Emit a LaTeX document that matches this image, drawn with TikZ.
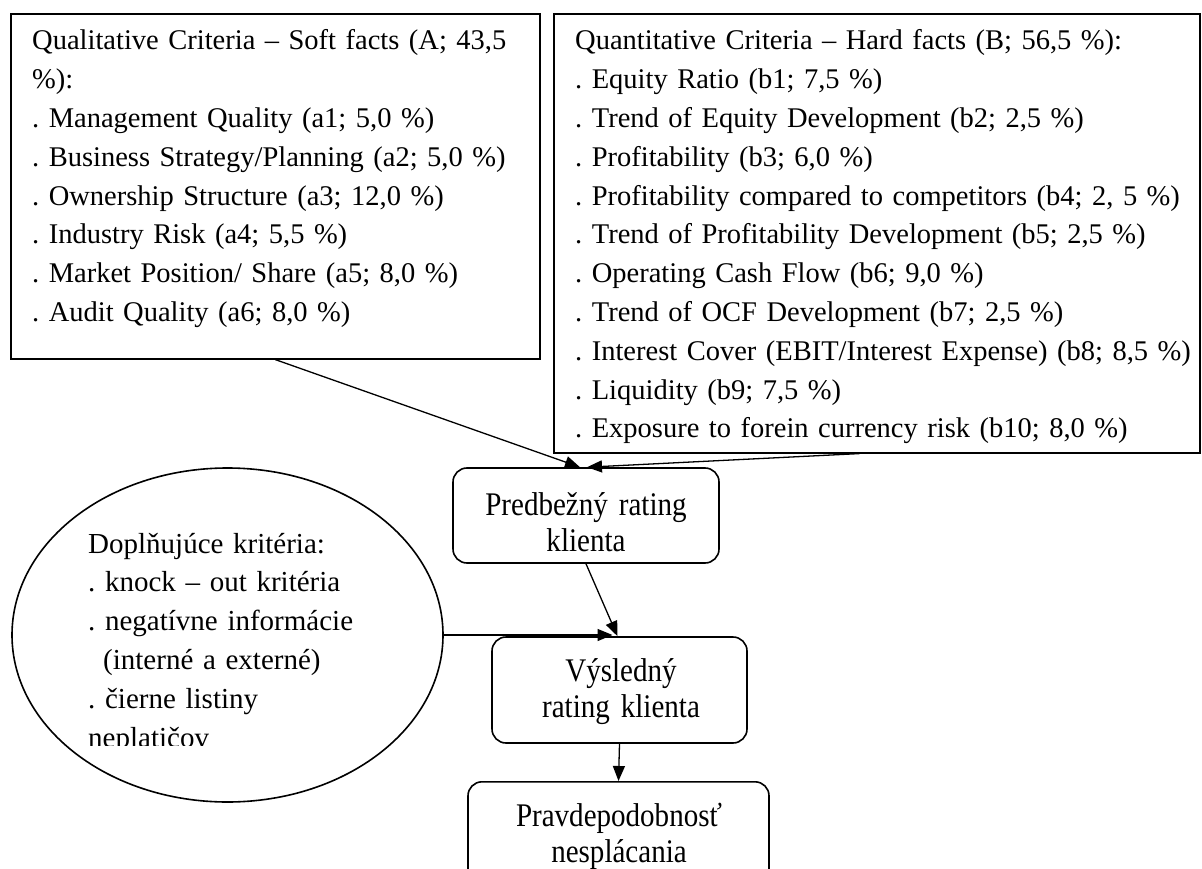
\documentclass[tikz,border=0pt]{standalone}
\usepackage{fontspec}
\setmainfont{Liberation Serif}
\newfontfamily\tallfont[FakeStretch=0.88]{Liberation Serif}
\usetikzlibrary{arrows.meta,calc,shapes.geometric}

\begin{document}
\begin{tikzpicture}[x=1pt,y=-1pt,
  box/.style={draw,line width=1.6pt,inner sep=0pt,anchor=north west},
  rbox/.style={draw,line width=1.6pt,rounded corners=14pt,inner sep=0pt},
  txt/.style={inner sep=0pt,anchor=base west,text width=#1,align=left,
    font=\fontsize{28.5}{38.8}\selectfont\frenchspacing},
  ctxt/.style={inner sep=0pt,anchor=base,text width=#1,align=center,
    font=\tallfont\fontsize{33}{36.5}\selectfont\frenchspacing},
  conn/.style={line width=1.3pt,-{Triangle[length=15pt,width=12pt]}}]

\useasboundingbox (0,0) rectangle (1202,869);
\clip (0,0) rectangle (1202,869);

% criteria boxes
\node[box,minimum width=529pt,minimum height=345pt] (qual) at (10,13) {};
\node[box,minimum width=646pt,minimum height=439pt] (quant) at (553,13) {};

\node[txt=515pt] (qualtxt) at (32,50) {Qualitative Criteria – Soft facts (A; 43,5\\
\%):\\
. Management Quality (a1; 5,0 \%)\\
. Business Strategy/Planning (a2; 5,0 \%)\\
. Ownership Structure (a3; 12,0 \%)\\
. Industry Risk (a4; 5,5 \%)\\
. Market Position/ Share (a5; 8,0 \%)\\
. Audit Quality (a6; 8,0 \%)};

\node[txt=640pt] (quanttxt) at (575,50) {Quantitative Criteria – Hard facts (B; 56,5 \%):\\
. Equity Ratio (b1; 7,5 \%)\\
. Trend of Equity Development (b2; 2,5 \%)\\
. Profitability (b3; 6,0 \%)\\
. Profitability compared to competitors (b4; 2, 5 \%)\\
. Trend of Profitability Development (b5; 2,5 \%)\\
. Operating Cash Flow (b6; 9,0 \%)\\
. Trend of OCF Development (b7; 2,5 \%)\\
. Interest Cover (EBIT/Interest Expense) (b8; 8,5 \%)\\
. Liquidity (b9; 7,5 \%)\\
. Exposure to forein currency risk (b10; 8,0 \%)};

% additional criteria
\node[draw,ellipse,line width=1.6pt,inner sep=0pt,
  minimum width=431pt,minimum height=334pt] (doplnk) at (227.5,635) {};
\begin{scope}
\clip (0,0) rectangle (460,745);
\node[txt=360pt,font=\fontsize{29}{38.8}\selectfont\frenchspacing] (doplntxt) at (88,553) {Doplňujúce kritéria:\\
. knock – out kritéria\\
. negatívne informácie\\
\hspace*{15pt}(interné a externé)\\
. čierne listiny\\
neplatičov};
\end{scope}

% rating steps
\node[rbox,minimum width=266pt,minimum height=95pt] (pred) at (586,515.5) {};
\node[ctxt=260pt] (predtxt) at (586,515) {Predbežný rating\\klienta};
\node[rbox,minimum width=255pt,minimum height=106pt] (vys) at (619.5,690) {};
\node[ctxt=250pt] (vystxt) at (621,681) {Výsledný\\rating klienta};
\node[rbox,anchor=north,minimum width=301pt,minimum height=110pt] (prav) at (618.5,781) {};
\node[ctxt=290pt] (pravtxt) at (619,826) {Pravdepodobnosť\\nesplácania};

\coordinate (vystip) at ([xshift=-7pt]vys.north);
\draw[conn] ($(qual.south west)!.5!(qual.south east)$) -- ([xshift=-6pt]pred.north);
\draw[conn] ($(quant.south west)!.473!(quant.south east)$) -- ([xshift=1pt]pred.north);
\draw[conn] (pred.south) -- ([xshift=-2pt]vys.north);
\draw[conn] (doplnk.east) -- (doplnk.east -| vystip);
\draw[conn] (vys.south) -- (prav.north);

\end{tikzpicture}
\end{document}
